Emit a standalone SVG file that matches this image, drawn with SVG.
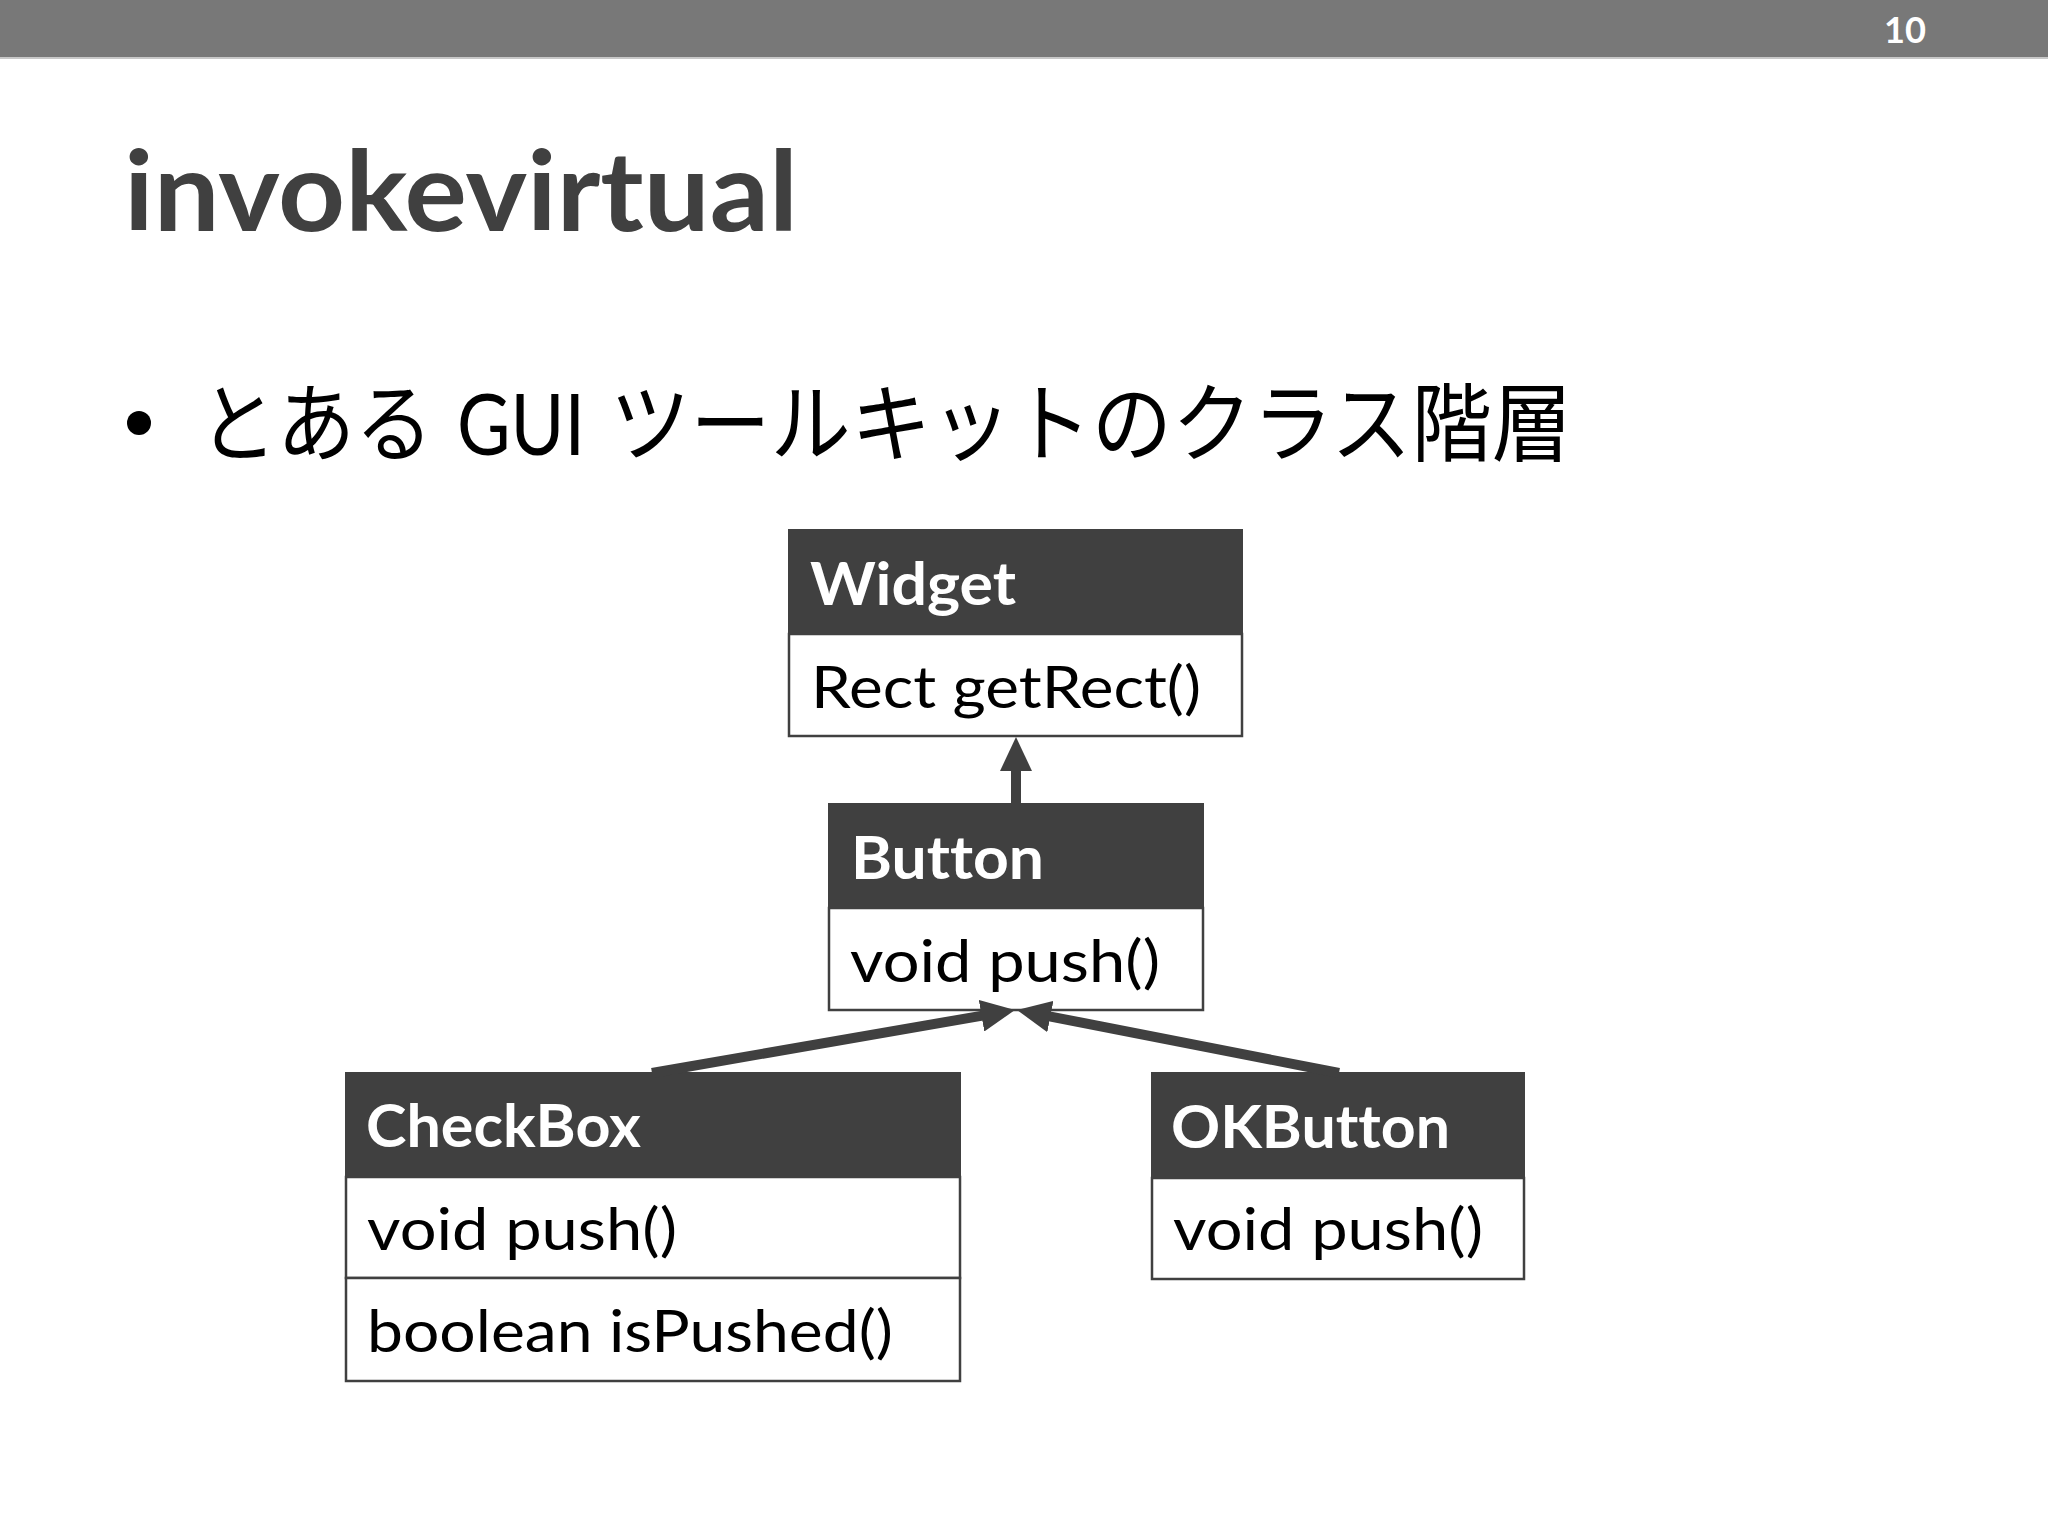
<svg xmlns="http://www.w3.org/2000/svg" width="2048" height="1536" viewBox="0 0 2048 1536">
  <style>
    text { font-variant-ligatures: none; font-feature-settings: "liga" 0, "clig" 0; }
    .hdr { fill: #404040; stroke: #404040; stroke-width: 2; }
    .body { fill: #ffffff; stroke: #404040; stroke-width: 2.5; }
    .htxt { font-family: Lato, "Open Sans", "Noto Sans", sans-serif; font-weight: bold; font-size: 59px; fill: #ffffff; }
    .btxt { font-family: Lato, "Open Sans", "Noto Sans", sans-serif; font-size: 59px; fill: #000000; }
    .conn { stroke: #404040; stroke-width: 10; fill: none; }
  </style>
  <defs>
    <marker id="tri" markerUnits="userSpaceOnUse" markerWidth="34" markerHeight="32" viewBox="0 0 34 32" refX="1" refY="16" orient="auto">
      <path d="M0,0 L34,16 L0,32 Z" fill="#404040"/>
    </marker>
  </defs>
  <rect x="0" y="0" width="2048" height="1536" fill="#ffffff"/>
  <g id="topbar">
    <rect x="0" y="0" width="2048" height="57" fill="#787878"/>
    <line x1="0" y1="58" x2="2048" y2="58" stroke="#c8c8c8" stroke-width="2"/>
    <text x="1884" y="43" font-family="Lato, sans-serif" font-weight="bold" font-size="36" fill="#ffffff" textLength="42" lengthAdjust="spacingAndGlyphs">10</text>
  </g>
  <text id="title" x="124" y="231" font-family="Lato, sans-serif" font-weight="bold" font-size="112" fill="#404040" textLength="674" lengthAdjust="spacingAndGlyphs">invokevirtual</text>
  <g id="bullet">
    <circle cx="139" cy="423" r="12" fill="#000000"/>
    <text y="455" font-family="Lato, &quot;Noto Sans CJK JP&quot;, sans-serif" font-size="86" fill="#000000"><tspan x="199" textLength="234" lengthAdjust="spacingAndGlyphs">とある</tspan><tspan x="457" textLength="128" lengthAdjust="spacingAndGlyphs">GUI</tspan><tspan x="610" textLength="962" lengthAdjust="spacingAndGlyphs">ツールキットのクラス階層</tspan></text>
  </g>
  <g id="Widget">
    <rect class="hdr" x="789" y="530" width="453" height="104"/>
    <rect class="body" x="789" y="634" width="453" height="102"/>
    <text class="htxt" x="810" y="605" textLength="206" lengthAdjust="spacingAndGlyphs">Widget</text>
    <text class="btxt" x="811" y="708" textLength="390" lengthAdjust="spacingAndGlyphs">Rect getRect()</text>
  </g>
  <g id="Button">
    <rect class="hdr" x="829" y="804" width="374" height="104"/>
    <rect class="body" x="829" y="908" width="374" height="102"/>
    <text class="htxt" x="851" y="879" textLength="193" lengthAdjust="spacingAndGlyphs">Button</text>
    <text class="btxt" x="850" y="982" textLength="310" lengthAdjust="spacingAndGlyphs">void push()</text>
  </g>
  <g id="CheckBox">
    <rect class="hdr" x="346" y="1073" width="614" height="104"/>
    <rect class="body" x="346" y="1177" width="614" height="101"/>
    <rect class="body" x="346" y="1278" width="614" height="103"/>
    <text class="htxt" x="366" y="1147" textLength="275" lengthAdjust="spacingAndGlyphs">CheckBox</text>
    <text class="btxt" x="367" y="1250" textLength="310" lengthAdjust="spacingAndGlyphs">void push()</text>
    <text class="btxt" x="367" y="1352" textLength="526" lengthAdjust="spacingAndGlyphs">boolean isPushed()</text>
  </g>
  <g id="OKButton">
    <rect class="hdr" x="1152" y="1073" width="372" height="105"/>
    <rect class="body" x="1152" y="1178" width="372" height="101"/>
    <text class="htxt" x="1171" y="1148" textLength="279" lengthAdjust="spacingAndGlyphs">OKButton</text>
    <text class="btxt" x="1173" y="1250" textLength="310" lengthAdjust="spacingAndGlyphs">void push()</text>
  </g>
  <g id="connectors">
    <line class="conn" x1="1016" y1="804" x2="1016" y2="770" marker-end="url(#tri)"/>
    <line class="conn" x1="652" y1="1073" x2="982.5" y2="1015.6" marker-end="url(#tri)"/>
    <line class="conn" x1="1339" y1="1073" x2="1049.4" y2="1016.3" marker-end="url(#tri)"/>
  </g>
</svg>
